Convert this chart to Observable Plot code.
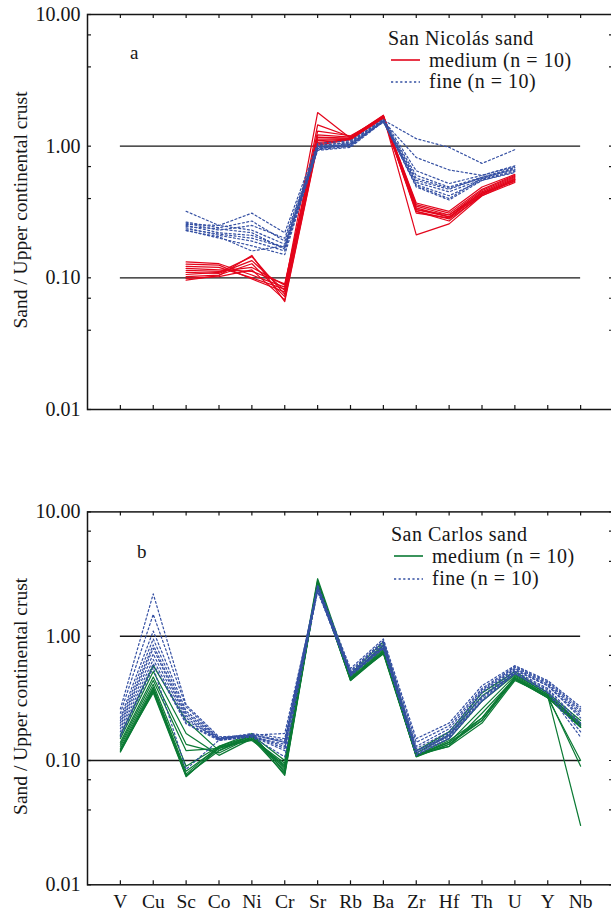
<!DOCTYPE html>
<html>
<head>
<meta charset="utf-8">
<script src="https://cdn.jsdelivr.net/npm/d3@7"></script>
<script src="https://cdn.jsdelivr.net/npm/@observablehq/plot@0.6"></script>
<style>
  html, body { margin: 0; padding: 0; background: #ffffff; }
  #chart { width: 611px; }
  #chart svg { display: block; }
</style>
</head>
<body>
<div id="chart"></div>
<script>
// ---------- DATA ----------
const elements = ["V", "Cu", "Sc", "Co", "Ni", "Cr", "Sr", "Rb", "Ba", "Zr", "Hf", "Th", "U", "Y", "Nb"];
const elementsA = ["Sc", "Co", "Ni", "Cr", "Sr", "Rb", "Ba", "Zr", "Hf", "Th", "U"];
const yTicks = [10, 1, 0.1, 0.01];
const yTickLabels = ["10.00", "1.00", "0.10", "0.01"];
const yMinorTicks = [7, 4, 0.7, 0.4, 0.07, 0.04];

// Panel a — San Nicolás sand (columns = elementsA)
const snMedium = [
  [0.132, 0.128, 0.105, 0.085, 1.80, 1.15, 1.68, 0.37, 0.32, 0.49, 0.61],
  [0.127, 0.125, 0.098, 0.078, 1.45, 1.18, 1.70, 0.36, 0.31, 0.47, 0.60],
  [0.122, 0.120, 0.100, 0.082, 1.30, 1.20, 1.65, 0.35, 0.30, 0.46, 0.59],
  [0.118, 0.115, 0.112, 0.090, 1.22, 1.17, 1.72, 0.34, 0.29, 0.45, 0.58],
  [0.114, 0.112, 0.120, 0.088, 1.17, 1.15, 1.66, 0.33, 0.30, 0.44, 0.57],
  [0.110, 0.108, 0.135, 0.080, 1.13, 1.14, 1.64, 0.33, 0.29, 0.43, 0.56],
  [0.106, 0.110, 0.145, 0.075, 1.10, 1.13, 1.62, 0.32, 0.28, 0.42, 0.55],
  [0.102, 0.105, 0.128, 0.072, 1.07, 1.12, 1.66, 0.31, 0.285, 0.44, 0.54],
  [0.099, 0.102, 0.115, 0.068, 1.04, 1.13, 1.69, 0.32, 0.27, 0.43, 0.56],
  [0.096, 0.104, 0.148, 0.066, 1.02, 1.12, 1.70, 0.212, 0.257, 0.42, 0.53]
];
const snFine = [
  [0.32, 0.25, 0.31, 0.22, 1.05, 1.10, 1.58, 1.14, 0.98, 0.74, 0.94],
  [0.265, 0.24, 0.27, 0.19, 0.98, 1.05, 1.55, 0.82, 0.66, 0.60, 0.70],
  [0.26, 0.23, 0.25, 0.20, 1.00, 1.08, 1.60, 0.65, 0.52, 0.60, 0.71],
  [0.255, 0.25, 0.23, 0.18, 0.96, 1.02, 1.57, 0.60, 0.49, 0.58, 0.69],
  [0.25, 0.22, 0.21, 0.17, 0.94, 1.00, 1.56, 0.57, 0.48, 0.57, 0.68],
  [0.245, 0.235, 0.22, 0.165, 0.95, 1.04, 1.52, 0.55, 0.47, 0.58, 0.66],
  [0.24, 0.21, 0.19, 0.16, 0.93, 0.98, 1.54, 0.53, 0.45, 0.56, 0.65],
  [0.235, 0.215, 0.20, 0.17, 1.02, 1.06, 1.59, 0.51, 0.42, 0.55, 0.64],
  [0.23, 0.20, 0.175, 0.15, 0.97, 1.01, 1.53, 0.50, 0.40, 0.57, 0.67],
  [0.228, 0.205, 0.16, 0.175, 0.99, 1.03, 1.55, 0.49, 0.39, 0.55, 0.63]
];

// Panel b — San Carlos sand (columns = elements)
const scMedium = [
  [0.16, 0.58, 0.21, 0.12, 0.16, 0.10, 2.9, 0.50, 0.90, 0.12, 0.17, 0.35, 0.52, 0.35, 0.21],
  [0.15, 0.52, 0.165, 0.11, 0.15, 0.095, 2.8, 0.48, 0.86, 0.115, 0.16, 0.33, 0.50, 0.34, 0.20],
  [0.14, 0.47, 0.135, 0.115, 0.155, 0.09, 2.75, 0.47, 0.84, 0.11, 0.15, 0.30, 0.49, 0.34, 0.195],
  [0.135, 0.44, 0.12, 0.125, 0.16, 0.085, 2.7, 0.46, 0.80, 0.11, 0.14, 0.26, 0.48, 0.33, 0.19],
  [0.13, 0.41, 0.09, 0.13, 0.165, 0.08, 2.7, 0.45, 0.78, 0.108, 0.145, 0.22, 0.47, 0.33, 0.19],
  [0.125, 0.39, 0.082, 0.128, 0.15, 0.078, 2.65, 0.45, 0.76, 0.107, 0.135, 0.21, 0.46, 0.32, 0.185],
  [0.12, 0.38, 0.078, 0.13, 0.158, 0.076, 2.6, 0.44, 0.75, 0.109, 0.14, 0.21, 0.45, 0.32, 0.10],
  [0.118, 0.37, 0.076, 0.12, 0.155, 0.082, 2.6, 0.44, 0.73, 0.112, 0.13, 0.20, 0.44, 0.33, 0.09],
  [0.117, 0.36, 0.075, 0.125, 0.148, 0.088, 2.55, 0.46, 0.72, 0.108, 0.135, 0.22, 0.45, 0.32, 0.185],
  [0.122, 0.35, 0.074, 0.128, 0.145, 0.092, 2.5, 0.45, 0.74, 0.11, 0.13, 0.24, 0.46, 0.33, 0.03]
];
const scFine = [
  [0.26, 2.19, 0.28, 0.155, 0.16, 0.14, 2.6, 0.55, 0.95, 0.15, 0.20, 0.40, 0.58, 0.44, 0.27],
  [0.24, 1.5, 0.27, 0.15, 0.165, 0.15, 2.5, 0.53, 0.92, 0.14, 0.19, 0.38, 0.57, 0.43, 0.26],
  [0.22, 1.1, 0.25, 0.152, 0.16, 0.165, 2.4, 0.52, 0.90, 0.13, 0.18, 0.37, 0.56, 0.42, 0.25],
  [0.21, 0.95, 0.24, 0.15, 0.158, 0.13, 2.5, 0.51, 0.88, 0.125, 0.17, 0.36, 0.55, 0.41, 0.24],
  [0.20, 0.85, 0.23, 0.148, 0.162, 0.14, 2.3, 0.50, 0.85, 0.12, 0.16, 0.35, 0.54, 0.40, 0.23],
  [0.19, 0.80, 0.22, 0.146, 0.155, 0.135, 2.45, 0.49, 0.83, 0.118, 0.165, 0.33, 0.53, 0.40, 0.22],
  [0.18, 0.72, 0.21, 0.15, 0.16, 0.145, 2.35, 0.50, 0.82, 0.12, 0.155, 0.32, 0.52, 0.38, 0.20],
  [0.17, 0.65, 0.20, 0.148, 0.157, 0.12, 2.4, 0.48, 0.80, 0.115, 0.15, 0.31, 0.51, 0.37, 0.19],
  [0.16, 0.60, 0.197, 0.145, 0.155, 0.107, 2.3, 0.49, 0.81, 0.112, 0.16, 0.30, 0.50, 0.36, 0.17],
  [0.155, 0.56, 0.085, 0.146, 0.158, 0.125, 2.35, 0.48, 0.80, 0.11, 0.15, 0.30, 0.50, 0.35, 0.154]
];

// ---------- STYLE ----------
const FONT = "Liberation Serif";
const RED = "#e3051b";
const BLUE = "#3550a3";
const GREEN = "#0b7a34";
const INK = "#161616";
const W = 611;

function toRows(samples, names) {
  return samples.flatMap((vals, s) =>
    vals.map((v, j) => ({ el: elements.indexOf(names[j]), v, s }))
  );
}

function legendMark(cfg) {
  return () => {
    const g = d3.create("svg:g")
      .attr("font-family", FONT)
      .attr("font-size", 20)
      .attr("letter-spacing", "0.5px")
      .attr("text-anchor", "start")
      .attr("fill", INK);
    g.append("text").attr("x", cfg.x).attr("y", cfg.titleY).text(cfg.title);
    g.append("line")
      .attr("x1", cfg.lx1).attr("x2", cfg.lx2)
      .attr("y1", cfg.medY).attr("y2", cfg.medY)
      .attr("stroke", cfg.color).attr("stroke-width", 1.6);
    g.append("text").attr("x", cfg.tx).attr("y", cfg.medY + 6.8).text("medium (n = 10)");
    g.append("line")
      .attr("x1", cfg.lx1).attr("x2", cfg.lx2)
      .attr("y1", cfg.fineY).attr("y2", cfg.fineY)
      .attr("stroke", BLUE).attr("stroke-width", 1.4)
      .attr("stroke-dasharray", "2.2,2.4");
    g.append("text").attr("x", cfg.tx).attr("y", cfg.fineY + 6.3).text("fine (n = 10)");
    g.append("text").attr("x", cfg.tagX).attr("y", cfg.tagY).attr("font-size", 19).text(cfg.tag);
    return g.node();
  };
}

function panel(opts) {
  const { height, marginTop, marginBottom, medium, fine, names, mediumColor, refs, showX, legend } = opts;
  const marginLeft = 87, marginRight = -2;
  const plotW = W - marginLeft - marginRight;
  const plotH = height - marginTop - marginBottom;
  const medRows = toRows(medium, names);
  const fineRows = toRows(fine, names);
  const allTicks = [...yTicks, ...yMinorTicks];
  const idx = d3.range(elements.length);

  const marks = [
    ...refs.map(r => Plot.ruleY([r.y], { x1: r.from, x2: elements.length - 1, stroke: INK, strokeWidth: 1.4 })),
    Plot.line(medRows, { x: "el", y: "v", z: "s", stroke: mediumColor, strokeWidth: 1.2 }),
    Plot.line(fineRows, { x: "el", y: "v", z: "s", stroke: BLUE, strokeWidth: 1.2, strokeDasharray: "2,2.4" }),
    Plot.frame({ stroke: INK, strokeWidth: 1.5 }),
    Plot.tickY(allTicks, { y: d => d, stroke: INK, strokeWidth: 1.2, insetRight: plotW - 4 }),
    Plot.tickY(allTicks, { y: d => d, stroke: INK, strokeWidth: 1.2, insetLeft: plotW - 4 }),
    Plot.tickX(idx, { x: d => d, stroke: INK, strokeWidth: 1.2, insetBottom: plotH - 4 }),
    Plot.tickX(idx, { x: d => d, stroke: INK, strokeWidth: 1.2, insetTop: plotH - 4 }),
    Plot.axisY(yTicks, {
      tickSize: 0, tickPadding: 7, label: null,
      tickFormat: d => yTickLabels[yTicks.indexOf(d)],
      fontSize: 20, fontFamily: FONT, fill: INK
    }),
    Plot.text(["Sand / Upper continental crust"], {
      frameAnchor: "left", dx: -61, dy: -2, rotate: -90,
      textAnchor: "middle", lineAnchor: "bottom",
      fontSize: 19.5, fontFamily: FONT, fill: INK,
      letterSpacing: "0.3px"
    }),
    legendMark(legend)
  ];
  if (showX) {
    marks.push(Plot.axisX(idx, {
      tickSize: 0, tickPadding: 9, label: null,
      tickFormat: i => elements[i], fontSize: 19.5, fontFamily: FONT, fill: INK
    }));
  }
  return Plot.plot({
    width: W,
    height,
    marginLeft, marginRight, marginTop, marginBottom,
    style: { fontFamily: FONT, fontSize: "19px", color: INK, background: "#ffffff", overflow: "hidden" },
    x: { type: "linear", domain: [-1, elements.length], ...(showX ? {} : { axis: null }) },
    y: { type: "log", domain: [0.01, 10] },
    marks
  });
}

const chart = document.getElementById("chart");

chart.append(panel({
  height: 460, marginTop: 14, marginBottom: 51,
  medium: snMedium, fine: snFine, names: elementsA,
  mediumColor: RED,
  refs: [{ y: 1, from: 0 }, { y: 0.1, from: 0 }],
  showX: false,
  legend: {
    title: "San Nicolás sand", color: RED,
    x: 388, titleY: 45, lx1: 391, lx2: 420, tx: 429, medY: 60, fineY: 82,
    tag: "a", tagX: 130, tagY: 59
  }
}));

chart.append(panel({
  height: 452, marginTop: 51.4, marginBottom: 27.7,
  medium: scMedium, fine: scFine, names: elements,
  mediumColor: GREEN,
  refs: [{ y: 1, from: 0 }, { y: 0.1, from: -1 }],
  showX: true,
  legend: {
    title: "San Carlos sand", color: GREEN,
    x: 391, titleY: 80.8, lx1: 394, lx2: 423, tx: 432, medY: 96, fineY: 119,
    tag: "b", tagX: 137, tagY: 97.7
  }
}));
</script>
</body>
</html>
